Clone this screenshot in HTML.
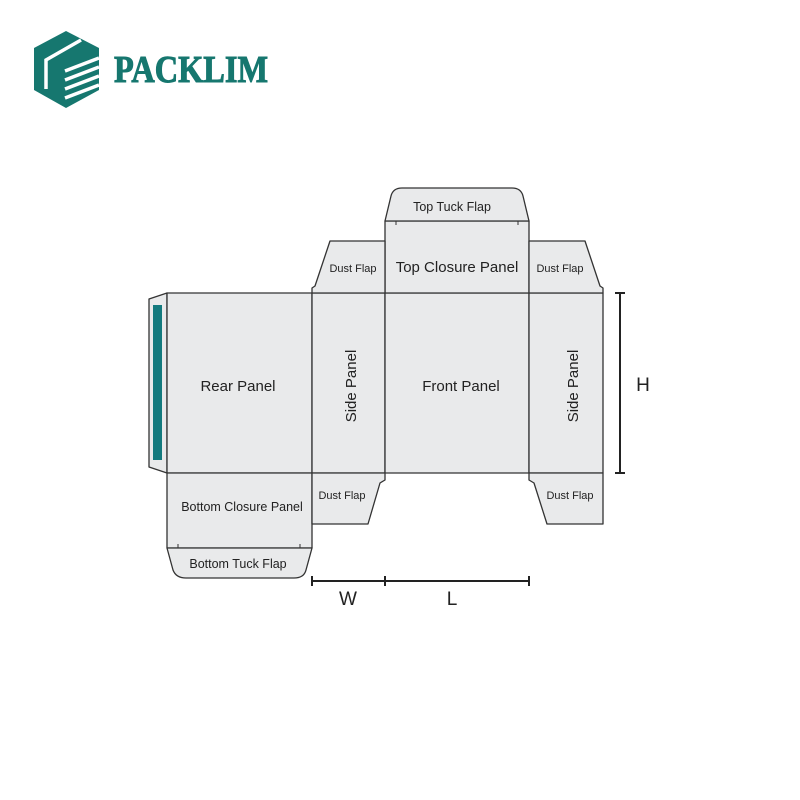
<!DOCTYPE html>
<html><head><meta charset="utf-8"><style>
html,body{margin:0;padding:0;background:#fff;}
svg{display:block;}
text{font-family:"Liberation Sans",sans-serif;fill:#222;}
</style></head><body>
<svg width="800" height="800" viewBox="0 0 800 800" xmlns="http://www.w3.org/2000/svg">
<!-- logo -->
<polygon points="66,31 99,48 99,90 66,108 34,90 34,48" fill="#16776f"/>
<g stroke="#fff" stroke-width="3.5" fill="none" stroke-linecap="butt">
<polyline points="46,89 46,60 81,40"/>
<line x1="65" y1="71" x2="99" y2="58"/>
<line x1="65" y1="80" x2="99" y2="67"/>
<line x1="65" y1="89" x2="99" y2="76"/>
<line x1="65" y1="98" x2="99" y2="85"/>
</g>
<text x="114" y="82" textLength="154" lengthAdjust="spacingAndGlyphs" style="font-family:'Liberation Serif',serif;font-weight:bold;font-size:38px;fill:#16776f;stroke:#16776f;stroke-width:1">PACKLIM</text>

<g fill="#e9eaeb" stroke="#333" stroke-width="1.3" stroke-linejoin="round">
<polygon points="149,299 167,293 167,473 149,467"/>
<rect x="167" y="293" width="145" height="180"/>
<rect x="312" y="293" width="73" height="180"/>
<rect x="385" y="293" width="144" height="180"/>
<rect x="529" y="293" width="74" height="180"/>
<rect x="385" y="221" width="144" height="72"/>
<path d="M385,221 L391,196 Q393,188 402,188 L512,188 Q521,188 523,196 L529,221 Z"/>
<path d="M312,293 L312,288 L315,286 L330,241 L385,241 L385,293 Z"/>
<path d="M603,293 L603,288 L600,286 L585,241 L529,241 L529,293 Z"/>
<rect x="167" y="473" width="145" height="75"/>
<path d="M167,548 L173,570 Q176,578 186,578 L294,578 Q304,578 306,570 L312,548 Z"/>
<path d="M312,473 L385,473 L385,480 L380,483 L368,524 L312,524 Z"/>
<path d="M603,473 L529,473 L529,480 L534,483 L547,524 L603,524 Z"/>
</g>
<rect x="153" y="305" width="9" height="155" fill="#137a7e"/>
<g stroke="#333" stroke-width="1">
<line x1="396" y1="221" x2="396" y2="225"/><line x1="518" y1="221" x2="518" y2="225"/>
<line x1="178" y1="548" x2="178" y2="544"/><line x1="300" y1="548" x2="300" y2="544"/>
</g>
<g stroke="#222" stroke-width="2">
<line x1="312" y1="581" x2="529" y2="581"/>
<line x1="312" y1="576" x2="312" y2="586"/>
<line x1="385" y1="576" x2="385" y2="586"/>
<line x1="529" y1="576" x2="529" y2="586"/>
<line x1="620" y1="293" x2="620" y2="473"/>
<line x1="615" y1="293" x2="625" y2="293"/>
<line x1="615" y1="473" x2="625" y2="473"/>
</g>
<text x="348" y="605" font-size="19" text-anchor="middle">W</text>
<text x="452" y="605" font-size="19" text-anchor="middle">L</text>
<text x="643" y="391" font-size="19" text-anchor="middle">H</text>
<text x="452" y="211" font-size="12.5" text-anchor="middle">Top Tuck Flap</text>
<text x="457" y="272" font-size="15" text-anchor="middle">Top Closure Panel</text>
<text x="353" y="272" font-size="11" text-anchor="middle">Dust Flap</text>
<text x="560" y="272" font-size="11" text-anchor="middle">Dust Flap</text>
<text x="238" y="391" font-size="15" text-anchor="middle">Rear Panel</text>
<text x="461" y="391" font-size="15" text-anchor="middle">Front Panel</text>
<text transform="translate(356,386) rotate(-90)" font-size="15" text-anchor="middle">Side Panel</text>
<text transform="translate(578,386) rotate(-90)" font-size="15" text-anchor="middle">Side Panel</text>
<text x="242" y="511" font-size="12.5" text-anchor="middle">Bottom Closure Panel</text>
<text x="238" y="568" font-size="12.5" text-anchor="middle">Bottom Tuck Flap</text>
<text x="342" y="499" font-size="11" text-anchor="middle">Dust Flap</text>
<text x="570" y="499" font-size="11" text-anchor="middle">Dust Flap</text>
</svg>
</body></html>
